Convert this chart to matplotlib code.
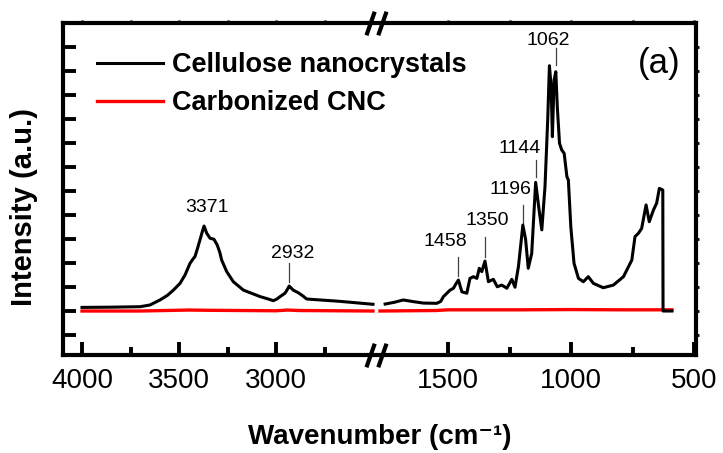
import numpy as np
import matplotlib
matplotlib.use('Agg')
import matplotlib.pyplot as plt
from matplotlib.path import Path

plt.rcParams['font.family'] = ['Liberation Sans', 'DejaVu Sans']

# cellulose nanocrystals, O-H / C-H region
cnc_hi_wn = [4000, 3850, 3700, 3650, 3598, 3560, 3529, 3495, 3469, 3443, 3425, 3418,
             3405, 3392, 3380, 3371, 3362, 3357, 3340, 3320, 3303, 3290, 3280, 3254,
             3220, 3168, 3120, 3082, 3040, 3014, 2995, 2979, 2954, 2945, 2932, 2925,
             2911, 2885, 2860, 2842, 2773, 2700, 2653, 2500]
cnc_hi_int = [0.15, 0.16, 0.18, 0.25, 0.46, 0.65, 0.87, 1.15, 1.50, 1.99, 2.20, 2.26,
              2.60, 2.96, 3.30, 3.54, 3.35, 3.24, 3.03, 2.99, 2.75, 2.45, 2.12, 1.64,
              1.22, 0.87, 0.72, 0.60, 0.50, 0.43, 0.50, 0.60, 0.74, 0.85, 1.04, 0.98,
              0.87, 0.76, 0.62, 0.50, 0.46, 0.42, 0.39, 0.28]

# cellulose nanocrystals, fingerprint region
cnc_lo_wn = [1756, 1720, 1682, 1641, 1600, 1546, 1530, 1519, 1492, 1478, 1470, 1458,
             1444, 1424, 1411, 1397, 1383, 1373, 1363, 1350, 1336, 1316, 1300, 1282,
             1261, 1241, 1228, 1214, 1196, 1185, 1174, 1160, 1144, 1130, 1119, 1106,
             1095, 1088, 1081, 1076, 1069, 1062, 1056, 1047, 1038, 1028, 1017, 1011,
             1001, 988, 970, 950, 930, 909, 869, 828, 787, 753, 740, 726,
             713, 695, 682, 665, 652, 641, 627, 626, 590]
cnc_lo_int = [0.29, 0.36, 0.46, 0.39, 0.33, 0.32, 0.40, 0.60, 0.87, 0.95, 1.10, 1.29,
              0.80, 0.74, 1.36, 1.43, 1.36, 1.78, 1.64, 2.08, 1.22, 1.32, 1.01, 1.08,
              0.95, 1.32, 0.99, 1.85, 3.58, 3.00, 1.78, 2.40, 5.36, 4.21, 3.38, 5.18,
              7.96, 10.22, 9.35, 7.26, 9.63, 9.97, 8.51, 6.99, 6.71, 6.57, 5.60, 5.46,
              3.51, 1.99, 1.36, 1.22, 1.43, 1.15, 0.97, 1.08, 1.43, 2.12, 3.10, 3.24,
              3.44, 4.42, 3.72, 4.21, 4.49, 5.11, 5.04, 0.00, 0.00]

# carbonized CNC, practically flat
ccnc_hi_wn = [4000, 3700, 3450, 3350, 3000, 2940, 2880, 2500]
ccnc_hi_int = [0.00, 0.00, 0.04, 0.03, 0.01, 0.04, 0.02, 0.00]
ccnc_lo_wn = [1777, 1550, 1500, 1200, 1000, 800, 590]
ccnc_lo_int = [0.00, 0.02, 0.05, 0.05, 0.06, 0.05, 0.05]

peak_labels = [3371, 2932, 1458, 1350, 1196, 1144, 1062]

major_ticks = [4000, 3500, 3000, 1500, 1000, 500]
minor_ticks = [3750, 3250, 2750, 1250, 750]
y_ticks = list(range(-1, 12))

# label placement: (text x, text y, marker line bottom, marker line top)
label_layout = {
    3371: (3356, 4.33, None, None),
    2932: (2912, 2.38, 1.21, 2.00),
    1458: (1513, 2.88, 1.46, 2.25),
    1350: (1342, 3.79, 2.25, 3.08),
    1196: (1248, 5.08, 3.67, 4.42),
    1144: (1208, 6.79, 5.58, 6.29),
    1062: (1094, 11.29, 10.25, 10.96),
}

# broken axis: 4098-2500 and 1785-492 share one axis at different scales
brk_wn = [-10000, 492, 1785, 2500, 4098, 20000]
brk_pos = [-2580, 0, 318, 323, 633, 3718]


def fwd(w):
    return np.interp(w, brk_wn, brk_pos)


def inv(p):
    return np.interp(p, brk_pos, brk_wn)


fig = plt.figure(figsize=(7.23, 4.53), dpi=100)
ax = fig.add_axes([63 / 723, 98 / 453, 633 / 723, 332 / 453])
ax.set_xscale('function', functions=(fwd, inv))

ax.plot(cnc_hi_wn, cnc_hi_int, color='black', lw=2.2, zorder=3, label='Cellulose nanocrystals')
ax.plot(cnc_lo_wn, cnc_lo_int, color='black', lw=2.2, zorder=3)
ax.plot(ccnc_hi_wn, ccnc_hi_int, color='#ff0000', lw=2.4, zorder=2, label='Carbonized CNC')
ax.plot(ccnc_lo_wn, ccnc_lo_int, color='#ff0000', lw=2.4, zorder=2)

for pk in peak_labels:
    tx, ty, y0, y1 = label_layout[pk]
    ax.text(tx, ty, str(pk), fontsize=14, ha='center', va='center')
    if y0 is not None:
        ax.plot([pk, pk], [y0, y1], color='0.25', lw=0.9)

xlim = (4098, 492)
ylim = (-1.833, 12.0)
ax.set_xlim(*xlim)
ax.set_ylim(*ylim)

ax.set_xticks(major_ticks, labels=[str(t) for t in major_ticks])
ax.set_xticks(minor_ticks, minor=True)
ax.set_yticks(y_ticks)
ax.tick_params(axis='x', which='major', direction='in', length=9.5, width=2.8,
               labelsize=20, pad=9)
ax.tick_params(axis='x', which='minor', direction='in', length=6, width=2.8)
ax.tick_params(axis='y', which='major', direction='in', length=9.5, width=2.8,
               labelleft=False)
for sp in ax.spines.values():
    sp.set_linewidth(3)

# small mirror ticks on top and right
ax_top = ax.twiny()
ax_top.set_xscale('function', functions=(fwd, inv))
ax_top.set_xlim(*xlim)
ax_top.set_xticks(major_ticks + minor_ticks)
ax_top.tick_params(axis='x', direction='out', length=2.5, width=2, labeltop=False)
ax_right = ax.twinx()
ax_right.set_ylim(*ylim)
ax_right.set_yticks(y_ticks)
ax_right.tick_params(axis='y', direction='out', length=2.5, width=2, labelright=False)
for a in (ax_top, ax_right):
    for sp in a.spines.values():
        sp.set_visible(False)

# "//" marks where the axis is broken
brk_marker = Path([(-1.7, -2), (-0.3, 2), (0.3, -2), (1.7, 2)],
                  [Path.MOVETO, Path.LINETO, Path.MOVETO, Path.LINETO])
ax.plot([2120, 2120], [0, 1], transform=ax.get_xaxis_transform(), linestyle='none',
        marker=brk_marker, markersize=17, markeredgewidth=3, color='black',
        clip_on=False, zorder=5)

ax.set_xlabel('Wavenumber (cm\u207b\u00b9)', fontsize=20, fontweight='bold', labelpad=22)
ax.set_ylabel('Intensity (a.u.)', fontsize=21, fontweight='bold')
ax.yaxis.set_label_coords(-0.04, 0.445)

ax.legend(loc='upper left', bbox_to_anchor=(0.0537, 0.912), frameon=False,
          prop={'size': 19.5, 'weight': 'bold'}, borderpad=0, borderaxespad=0,
          handlelength=2.44, handletextpad=0.33, labelspacing=0.45)

ax.text(0.9416, 0.8795, '(a)', transform=ax.transAxes, fontsize=25,
        ha='center', va='center')

fig.savefig('out.png', dpi=100)
